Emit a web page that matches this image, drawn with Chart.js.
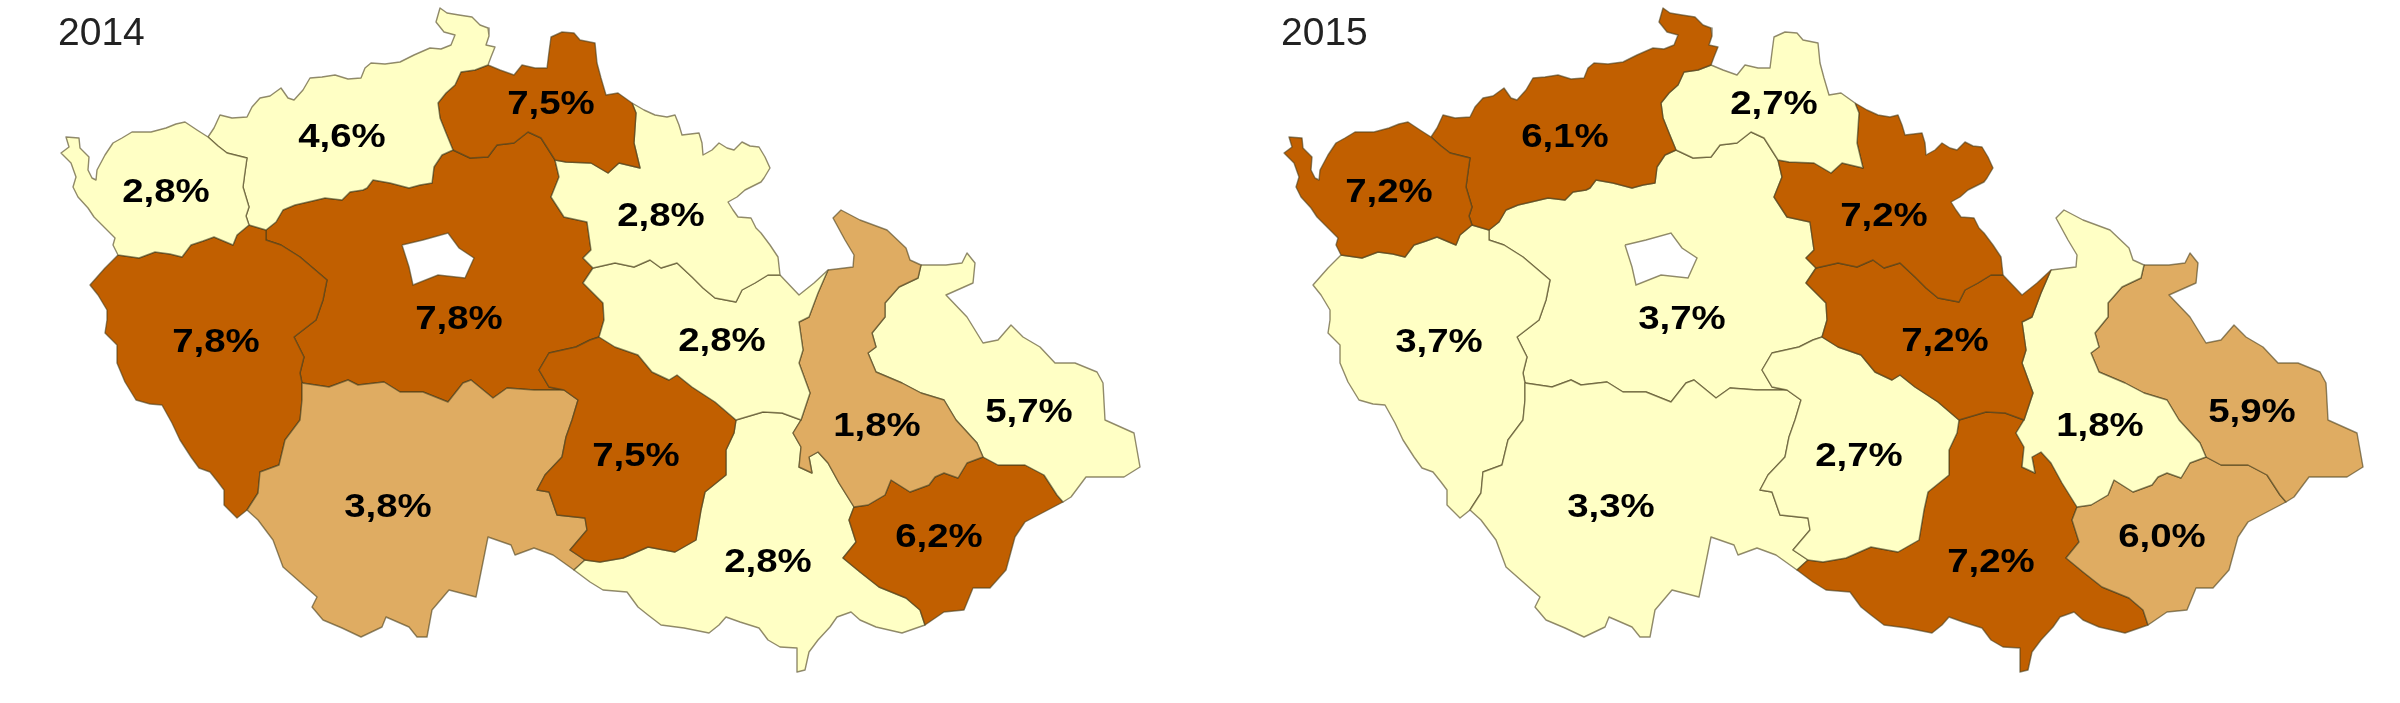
<!DOCTYPE html>
<html>
<head>
<meta charset="utf-8">
<title>Kraje 2014 / 2015</title>
<script src="https://cdn.jsdelivr.net/npm/chart.js@4"></script>
<style>
  html, body { margin: 0; padding: 0; background: #fff; }
  #wrap { position: relative; width: 2400px; height: 703px; overflow: hidden; }
  canvas { position: absolute; top: 0; }
  #map2014 { left: 0; }
  #map2015 { left: 1223px; }
</style>
</head>
<body>
<div id="wrap">
  <canvas id="map2014" width="1177" height="703"></canvas>
  <canvas id="map2015" width="1177" height="703"></canvas>
</div>
<script>
// values per region, same order as regionRings below
const regionNames = ['Karlovarsky', 'Ustecky', 'Liberecky', 'Kralovehradecky', 'Pardubicky', 'Vysocina', 'Olomoucky', 'Moravskoslezsky', 'Zlinsky', 'Jihomoravsky', 'Jihocesky', 'Plzensky', 'Stredocesky'];
const values2014 = [2.8, 4.6, 7.5, 2.8, 2.8, 7.5, 1.8, 5.7, 6.2, 2.8, 3.8, 7.8, 7.8];
const values2015 = [7.2, 6.1, 2.7, 7.2, 7.2, 2.7, 1.8, 5.9, 6.0, 7.2, 3.3, 3.7, 3.7];
// colour class of each region: 0 pale, 1 mid, 2 dark (the source classes them per year)
const classes2014 = [0, 0, 2, 0, 0, 2, 1, 0, 2, 0, 1, 2, 2];
const classes2015 = [2, 2, 0, 2, 2, 0, 0, 1, 1, 2, 0, 0, 0];
const labelX = [166, 342, 551, 661, 722, 636, 877, 1029, 939, 768, 388, 216, 459];
const labelY = [193, 138, 105, 217, 342, 457, 427, 413, 538, 563, 508, 343, 320];

// border lines of the map, in map units
const kvWest = [[118,255],[113,245],[115,238],[105,228],[94,217],[88,208],[78,197],[73,187],[76,177],[71,163],[61,153],[69,147],[66,137],[79,138],[80,148],[89,157],[88,170],[92,178],[96,180],[97,170],[105,155],[113,143],[122,138],[132,132],[151,132],[166,128],[176,124],[185,122],[197,130],[208,137]];
const kvUs = [[208,137],[218,146],[227,153],[247,158],[245,172],[243,187],[249,207],[246,216],[249,225]];
const kvPl = [[118,255],[139,258],[155,252],[170,254],[182,257],[191,245],[203,241],[214,237],[233,245],[237,235],[249,225]];
const usPl = [[266,230],[249,225]];
const usNorth = [[208,137],[214,128],[220,115],[232,118],[247,117],[252,107],[260,98],[270,96],[281,88],[288,98],[294,100],[303,90],[310,78],[322,77],[335,75],[348,79],[361,78],[365,68],[371,63],[385,64],[400,62],[414,55],[430,48],[441,49],[451,45],[455,35],[444,32],[436,22],[440,8],[447,13],[459,15],[472,17],[480,25],[488,28],[489,36],[486,45],[495,47],[491,57],[488,65]];
const usLb = [[488,65],[475,70],[461,72],[455,85],[446,93],[438,103],[440,118],[446,133],[453,150]];
const usSt = [[453,150],[442,155],[434,167],[432,183],[420,185],[409,188],[390,183],[373,180],[367,188],[363,190],[350,192],[342,200],[325,198],[308,202],[295,205],[283,210],[276,222],[266,230]];
const lbNorth = [[488,65],[500,70],[514,75],[522,65],[535,68],[547,68],[549,52],[551,37],[562,32],[574,33],[580,40],[595,43],[597,63],[601,78],[606,95],[618,93],[625,98],[632,103]];
const lbHk = [[632,103],[636,113],[634,143],[640,168],[619,163],[608,173],[591,163],[566,162],[555,160]];
const lbSt = [[555,160],[541,138],[528,132],[514,143],[497,145],[488,157],[470,158],[453,150]];
const hkNorth = [[632,103],[644,110],[655,115],[667,117],[675,115],[679,125],[682,135],[699,133],[702,143],[703,155],[712,150],[719,143],[727,148],[734,150],[742,142],[750,146],[759,147],[765,157],[770,168],[764,178],[761,182],[745,190],[737,197],[728,202],[733,210],[738,217],[751,218],[756,228],[761,233],[770,245],[778,257],[780,275]];
const hkPa = [[780,275],[768,275],[755,283],[742,290],[736,302],[715,298],[703,288],[692,277],[677,263],[661,268],[650,260],[634,267],[615,263],[593,268]];
const stHk = [[555,160],[559,177],[551,197],[564,217],[587,222],[591,250],[583,258],[593,268]];
const stPa = [[593,268],[583,283],[603,303],[604,320],[599,337]];
const paEast = [[780,275],[799,295],[814,283],[828,270]];
const paOl = [[828,270],[818,293],[809,317],[799,322],[803,350],[799,363],[810,393],[801,420]];
const paJm = [[801,420],[782,413],[763,412],[736,420]];
const paVy = [[736,420],[715,402],[692,387],[677,375],[669,380],[652,372],[638,355],[615,347],[599,337]];
const olNorth = [[828,270],[853,267],[854,255],[845,240],[833,218],[841,210],[860,220],[887,230],[906,248],[910,260],[921,265]];
const olMs = [[921,265],[918,278],[899,287],[885,303],[885,317],[872,333],[876,347],[868,353],[876,372],[902,383],[921,393],[944,400],[956,420],[977,443],[983,457]];
const olZl = [[983,457],[967,463],[958,478],[944,473],[935,477],[929,485],[910,492],[891,480],[885,495],[868,505],[854,507]];
const olJm = [[854,507],[839,483],[828,463],[818,452],[809,457],[812,473],[799,467],[801,447],[793,433],[801,420]];
const msOuter = [[921,265],[946,265],[962,263],[967,253],[975,263],[973,283],[946,295],[967,317],[983,343],[998,340],[1011,325],[1023,337],[1040,347],[1055,363],[1075,363],[1097,372],[1103,383],[1105,420],[1134,433],[1140,467],[1124,477],[1086,477],[1071,497],[1063,502]];
const msZl = [[983,457],[998,465],[1025,465],[1044,475],[1057,495],[1063,502]];
const zlOuter = [[1063,502],[1025,522],[1015,537],[1006,570],[990,588],[973,588],[964,610],[944,612],[925,625]];
const zlJm = [[925,625],[920,610],[906,598],[879,587],[860,572],[843,558],[856,542],[849,520],[854,507]];
const jmSouth = [[925,625],[902,633],[876,627],[860,620],[851,612],[837,617],[830,627],[818,640],[809,652],[805,670],[797,672],[797,648],[780,647],[768,640],[759,628],[740,622],[726,617],[719,625],[709,633],[684,628],[661,625],[648,615],[638,607],[627,592],[603,590],[590,582],[574,570]];
const jmJc = [[574,570],[585,560]];
const vyJm = [[736,420],[734,433],[726,450],[726,475],[705,492],[701,510],[696,540],[675,552],[648,547],[623,558],[600,562],[585,560]];
const vyJc = [[585,560],[570,550],[587,530],[585,518],[557,515],[549,492],[537,490],[545,475],[562,457],[566,437],[572,420],[578,400],[564,390]];
const vySt = [[564,390],[549,387],[539,370],[549,353],[576,347],[590,340],[599,337]];
const jcSt = [[564,390],[534,390],[507,388],[493,398],[471,380],[463,383],[448,402],[423,392],[400,392],[384,382],[358,385],[348,380],[329,387],[302,383]];
const plJc = [[302,383],[302,400],[300,420],[285,440],[279,465],[260,472],[258,493],[247,510]];
const jcOuter = [[247,510],[258,520],[273,540],[283,567],[300,582],[317,597],[312,607],[323,620],[342,628],[361,637],[382,627],[386,617],[409,627],[417,637],[427,637],[432,610],[449,590],[476,597],[484,557],[488,537],[511,545],[515,555],[534,548],[553,555],[574,570]];
const plWest = [[118,255],[105,268],[90,285],[98,295],[107,310],[107,320],[105,333],[117,345],[117,363],[125,382],[136,400],[150,404],[162,405],[172,423],[180,440],[191,457],[199,468],[210,472],[218,482],[224,490],[224,505],[237,518],[247,510]];
const plSt = [[302,383],[300,373],[304,357],[294,337],[316,320],[323,300],[327,280],[300,257],[281,245],[266,240],[266,230]];
const praha = [[402,245],[423,240],[448,233],[459,248],[474,258],[465,278],[438,275],[413,285],[409,267],[402,245]];

const rev = a => a.slice().reverse();
const regionRings = [
  [kvWest, kvUs, rev(kvPl)],
  [usNorth, usLb, usSt, usPl, rev(kvUs)],
  [lbNorth, lbHk, lbSt, rev(usLb)],
  [hkNorth, hkPa, rev(stHk), rev(lbHk)],
  [paEast, paOl, paJm, paVy, rev(stPa), rev(hkPa)],
  [rev(paVy), vyJm, vyJc, vySt],
  [olNorth, olMs, olZl, olJm, rev(paOl)],
  [msOuter, rev(msZl), rev(olMs)],
  [msZl, zlOuter, zlJm, rev(olZl)],
  [rev(paJm), rev(olJm), rev(zlJm), jmSouth, jmJc, rev(vyJm)],
  [jcSt, plJc, jcOuter, jmJc, vyJc],
  [plWest, rev(plJc), plSt, usPl, rev(kvPl)],
  [rev(usSt), rev(lbSt), stHk, stPa, rev(vySt), jcSt, plSt]
];

const classColors = ['#FFFFC5', '#DFAC62', '#C15F00'];
const borderColor = 'rgba(70,60,25,0.6)';

function toPoints(ring) {
  return ring.flat().map(p => ({ x: p[0], y: p[1] }));
}

// Chart.js line elements have no closed polygon fill, so fill from the parsed points
const polygonFill = {
  id: 'polygonFill',
  beforeDatasetDraw(chart, args) {
    const ds = chart.data.datasets[args.index];
    if (!ds.polyColor) return;
    const pts = chart.getDatasetMeta(args.index).data;
    const ctx = chart.ctx;
    ctx.save();
    ctx.beginPath();
    pts.forEach((p, i) => i ? ctx.lineTo(p.x, p.y) : ctx.moveTo(p.x, p.y));
    ctx.closePath();
    ctx.fillStyle = ds.polyColor;
    ctx.fill();
    ctx.restore();
  },
  afterDatasetsDraw(chart) {
    const ctx = chart.ctx;
    const i = chart.data.datasets.findIndex(d => d.valueLabels);
    const texts = chart.data.datasets[i].valueLabels;
    ctx.save();
    ctx.textAlign = 'center';
    ctx.textBaseline = 'middle';
    ctx.fillStyle = '#000';
    ctx.font = 'bold 34px "Liberation Sans"';
    chart.getDatasetMeta(i).data.forEach((p, k) => {
      ctx.save();
      ctx.translate(p.x, p.y);
      ctx.scale(1.13, 1);
      ctx.fillText(texts[k], 0, 0);
      ctx.restore();
    });
    ctx.font = '39px "Liberation Sans"';
    ctx.fillStyle = '#222';
    ctx.textAlign = 'left';
    ctx.fillText(chart.options.plugins.yearLabel, 58, 34);
    ctx.restore();
  }
};

function drawMap(id, year, values, classes) {
  const datasets = [
    { label: 'popisky', data: labelX.map((x, i) => ({ x, y: labelY[i] })), valueLabels: values.map(v => v.toFixed(1).replace('.', ',') + '%'), pointRadius: 0, showLine: false },
    { label: 'Praha', data: toPoints([praha]), polyColor: '#fff', showLine: true, pointRadius: 0, borderColor, borderWidth: 1.4 }
  ];
  regionNames.forEach((name, i) => {
    datasets.push({
      label: name,
      data: toPoints(regionRings[i]),
      polyColor: classColors[classes[i]],
      showLine: true,
      pointRadius: 0,
      borderColor,
      borderWidth: 1.4,
      borderJoinStyle: 'round'
    });
  });
  return new Chart(document.getElementById(id), {
    type: 'scatter',
    data: { datasets },
    plugins: [polygonFill],
    options: {
      responsive: false,
      animation: false,
      layout: { padding: 0 },
      plugins: { legend: { display: false }, tooltip: { enabled: false }, yearLabel: year },
      scales: {
        x: { type: 'linear', min: 0, max: 1177, display: false },
        y: { type: 'linear', min: 0, max: 703, reverse: true, display: false }
      }
    }
  });
}

drawMap('map2014', '2014', values2014, classes2014);
drawMap('map2015', '2015', values2015, classes2015);
</script>
</body>
</html>
